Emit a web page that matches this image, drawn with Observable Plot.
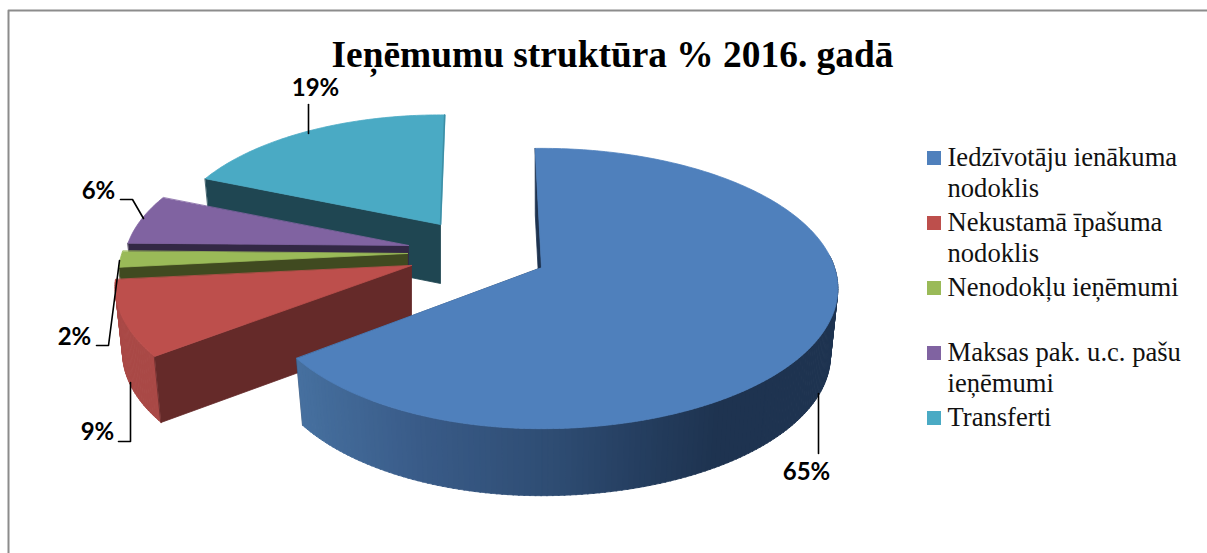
<!DOCTYPE html>
<html lang="lv">
<head>
<meta charset="utf-8">
<script src="https://cdn.jsdelivr.net/npm/d3@7"></script>
<script src="https://cdn.jsdelivr.net/npm/@observablehq/plot@0.6"></script>
<style>
html,body{margin:0;padding:0;background:#fff}
svg{display:block}
</style>
</head>
<body>
<div id="chart"></div>
<script>
const chartTitle = "Ieņēmumu struktūra % 2016. gadā";
const categories = ["Iedzīvotāju ienākuma\nnodoklis","Nekustamā īpašuma\nnodoklis","Nenodokļu ieņēmumi","Maksas pak. u.c. pašu\nieņēmumi","Transferti"];
const shares = [65.1, 8.7, 1.9, 6, 19];
const shareLabels = ["65%","9%","2%","6%","19%"];
const topColors = ["#4f80bc","#bd4f4c","#9aba58","#8063a1","#4aaac4"];
const wallColors = ["#2e4c72","#652a29","#404a20","#332845","#1f4652"];

// Layout of the exploded 3-D pie (perspective-projected ellipse)
const W = 1207, H = 553;
const K = 0.15, A = 293, B = 137, startAngle = -1.5, bottomScaleX = 0.975;
const apexX = [541,411,407,408,440], apexY = [267,265,253,245,224];
const sliceScale = [1,1,0.975,0.96,0.92], depth = [67,66,62,60,59];
const rad = d => d*Math.PI/180;
function proj(i,t){
  const s=sliceScale[i],c=Math.cos(rad(t)),n=Math.sin(rad(t)),den=1+K*c;
  let X=A*n/den*s;
  if(i===0&&X<0)X*=0.953;
  return [X,-B*c/den*s];
}
let acc = startAngle;
const slices = shares.map((v,i)=>{const a0=acc;acc+=v/100*360;return {i,a0,a1:acc};});
const top3 = (sl,t)=>{const [X,Y]=proj(sl.i,t);return [apexX[sl.i]+X,apexY[sl.i]+Y];};
const bot3 = (sl,t)=>{const [X,Y]=proj(sl.i,t);return [apexX[sl.i]+X*bottomScaleX,apexY[sl.i]+depth[sl.i]+Y];};
const apexTop = sl=>[apexX[sl.i],apexY[sl.i]];
const apexBot = sl=>[apexX[sl.i],apexY[sl.i]+depth[sl.i]];

const polys = [];
let kid = 0;
function poly(pts,fill){const k=kid++;for(const [x,y] of pts)polys.push({k,x,y,fill});}
function arc(sl,a0,a1,fn){const n=Math.max(2,Math.ceil(Math.abs(a1-a0)));return d3.range(n+1).map(j=>fn(sl,a0+(a1-a0)*j/n));}
function startWall(sl,c){poly([top3(sl,sl.a0),apexTop(sl),apexBot(sl),bot3(sl,sl.a0)],c);}
function endWall(sl,c){poly([top3(sl,sl.a1),apexTop(sl),apexBot(sl),bot3(sl,sl.a1)],c);}
function face(sl,c){poly([apexTop(sl),...arc(sl,sl.a0,sl.a1,top3)],c);}
const blueShade = d3.scaleLinear().domain([297,420,560,650,720,840]).range(["#46709f","#395b88","#2e4c72","#243d5e","#1e3350","#1e3350"]);
function rimStrips(sl,a0,a1,col){
  for(let t=a0;t<a1;t+=1){
    const e=Math.min(t+1.2,a1),p=top3(sl,t),q=top3(sl,e),r=bot3(sl,e),u=bot3(sl,t);
    poly([p,q,r,u],col(p[0]));
  }
}
const [blue,red,green,purple,teal]=slices;
// back to front
startWall(teal,wallColors[4]); face(teal,topColors[4]);
startWall(purple,wallColors[3]); face(purple,topColors[3]);
startWall(green,wallColors[2]); face(green,topColors[2]);
rimStrips(red,red.a0,red.a1,()=>"#a94946");
startWall(red,wallColors[1]); face(red,topColors[1]);
endWall(blue,wallColors[0]);
startWall(blue,"#1e3350");
rimStrips(blue,85,blue.a1,blueShade);
face(blue,topColors[0]);

// Label and leader layout
const labelX = [806,97,74,98,315], labelY = [472,432,337,191,88];
const leaders = [
  [[818,393],[818,453]],
  [[118,441],[130,441],[130,382]],
  [[96,345],[108,345],[119,260]],
  [[120,199],[132,199],[143,218]],
  [[308,133],[308,104]]
];
const leaderRows = leaders.flatMap((pts,i)=>pts.map(([x,y])=>({i,x,y})));
const labelRows = shareLabels.map((t,i)=>({t,x:labelX[i],y:labelY[i]}));
const tealEdge = [top3(teal,teal.a1),apexTop(teal)].map(([x,y])=>({x,y}));

// Legend layout
const legendY = [158,223,288,353,418];
const legendRows = categories.map((t,i)=>({t,y:legendY[i],c:topColors[i]}));
const serif = "'Liberation Serif','Times New Roman',serif";
const frame = [[W,10],[8,10],[8,H]].map(([x,y])=>({x,y}));

const plot = Plot.plot({
  width:W,height:H,margin:0,
  style:{background:"#fff",overflow:"visible"},
  x:{domain:[0,W],range:[0,W],axis:null},
  y:{domain:[0,H],range:[0,H],axis:null},
  color:{type:"identity"},
  marks:[
    Plot.line(frame,{x:"x",y:"y",stroke:"#8c8c8c",strokeWidth:2}),
    Plot.line(polys,{x:"x",y:"y",z:"k",fill:"fill",stroke:"fill",strokeWidth:0.8,curve:"linear-closed"}),
    Plot.line(tealEdge,{x:"x",y:"y",stroke:"#3d8ea5",strokeWidth:1.5}),
    Plot.line(leaderRows,{x:"x",y:"y",z:"i",stroke:"#000",strokeWidth:1.6}),
    Plot.text(labelRows,{x:"x",y:"y",text:"t",fontFamily:"Lato, sans-serif",fontWeight:700,fontSize:24,fill:"#000"}),
    Plot.text([chartTitle],{x:()=>612,y:()=>55,text:d=>d,fontFamily:serif,fontWeight:700,fontSize:37.4,fill:"#000"}),
    Plot.rect(legendRows,{x1:()=>927,x2:()=>941,y1:d=>d.y-7,y2:d=>d.y+7,fill:"c"}),
    Plot.text(legendRows,{x:()=>947,y:d=>d.y-15,text:"t",textAnchor:"start",lineAnchor:"top",lineHeight:31/26.6,fontFamily:serif,fontSize:26.6,fill:"#111"})
  ]
});
document.getElementById("chart").append(plot);
</script>
</body>
</html>
